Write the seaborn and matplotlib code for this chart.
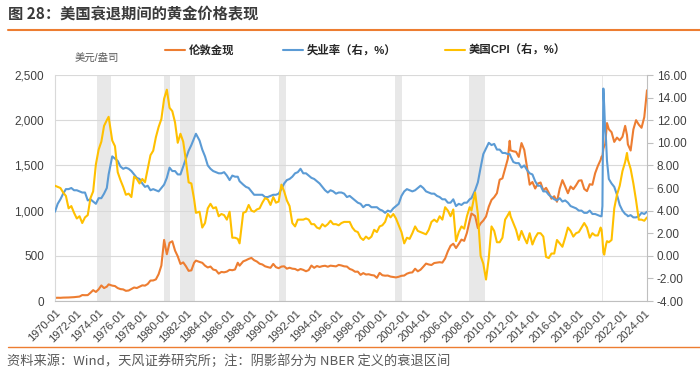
import numpy as np
import pandas as pd
import matplotlib.pyplot as plt
import seaborn as sns
from matplotlib.lines import Line2D
from matplotlib.ticker import FuncFormatter

# Sampled roughly quarterly, with extra months at peaks / troughs
dates = [
    "1970-01", "1970-04", "1970-07", "1970-10",
    "1971-01", "1971-04", "1971-07", "1971-10",
    "1972-01", "1972-04", "1972-07", "1972-10",
    "1973-01", "1973-04", "1973-07", "1973-10",
    "1974-01", "1974-04", "1974-07", "1974-10", "1974-12",
    "1975-04", "1975-07", "1975-10",
    "1976-01", "1976-04", "1976-07", "1976-10",
    "1977-01", "1977-04", "1977-07", "1977-10",
    "1978-01", "1978-04", "1978-07", "1978-10",
    "1979-01", "1979-04", "1979-07", "1979-10",
    "1980-01", "1980-04", "1980-07", "1980-10",
    "1981-01", "1981-04", "1981-07", "1981-10",
    "1982-01", "1982-04", "1982-07", "1982-10", "1982-12",
    "1983-04", "1983-07", "1983-10",
    "1984-01", "1984-04", "1984-07", "1984-10",
    "1985-01", "1985-04", "1985-07", "1985-10",
    "1986-01", "1986-04", "1986-07", "1986-10", "1986-12",
    "1987-04", "1987-07", "1987-10",
    "1988-01", "1988-04", "1988-07", "1988-10",
    "1989-01", "1989-04", "1989-07", "1989-10",
    "1990-01", "1990-04", "1990-07", "1990-10",
    "1991-01", "1991-04", "1991-07", "1991-10",
    "1992-01", "1992-04", "1992-07", "1992-10",
    "1993-01", "1993-04", "1993-07", "1993-10",
    "1994-01", "1994-04", "1994-07", "1994-10",
    "1995-01", "1995-04", "1995-07", "1995-10",
    "1996-01", "1996-04", "1996-07", "1996-10",
    "1997-01", "1997-04", "1997-07", "1997-10",
    "1998-01", "1998-04", "1998-07", "1998-10",
    "1999-01", "1999-04", "1999-07", "1999-10",
    "2000-01", "2000-04", "2000-07", "2000-10",
    "2001-01", "2001-04", "2001-07", "2001-10",
    "2002-01", "2002-04", "2002-07", "2002-10",
    "2003-01", "2003-04", "2003-07", "2003-10",
    "2004-01", "2004-04", "2004-07", "2004-10",
    "2005-01", "2005-04", "2005-07", "2005-10",
    "2006-01", "2006-04", "2006-07", "2006-10",
    "2007-01", "2007-04", "2007-07", "2007-10",
    "2008-01", "2008-03", "2008-07", "2008-10",
    "2009-01", "2009-04", "2009-07", "2009-10",
    "2010-01", "2010-04", "2010-07", "2010-10",
    "2011-01", "2011-04", "2011-07", "2011-09", "2011-10",
    "2012-01", "2012-04", "2012-07", "2012-10",
    "2013-01", "2013-04", "2013-07", "2013-10",
    "2014-01", "2014-04", "2014-07", "2014-10",
    "2015-01", "2015-04", "2015-07", "2015-10",
    "2016-01", "2016-04", "2016-07", "2016-10",
    "2017-01", "2017-04", "2017-07", "2017-10",
    "2018-01", "2018-04", "2018-07", "2018-10",
    "2019-01", "2019-04", "2019-07", "2019-10",
    "2020-01", "2020-02", "2020-03", "2020-04", "2020-05", "2020-06",
    "2020-07", "2020-08", "2020-10",
    "2021-01", "2021-04", "2021-07", "2021-10",
    "2022-01", "2022-04", "2022-06", "2022-07", "2022-10",
    "2023-01", "2023-04", "2023-07", "2023-10",
    "2024-01", "2024-04",
]

# 伦敦金现, 美元/盎司
gold = [
    34.9, 35.9, 35.3, 37.5,
    37.9, 39.0, 40.9, 42.5,
    46.0, 49.0, 65.7, 64.2,
    65.1, 90.5, 120.0, 100.1,
    129.2, 172.2, 143.0, 158.8, 183.8,
    170.0, 165.2, 142.9,
    131.6, 128.2, 112.5, 116.0,
    132.3, 149.2, 143.4, 158.6,
    173.2, 170.1, 188.3, 226.2,
    227.3, 239.2, 296.5, 392.0,
    675.3, 517.4, 643.8, 661.1,
    557.3, 494.4, 409.3, 427.1,
    384.1, 333.5, 339.0, 423.2, 447.0,
    432.0, 422.7, 391.0,
    370.9, 381.2, 347.7, 340.3,
    302.8, 321.4, 317.3, 325.3,
    344.8, 340.4, 348.7, 423.3, 391.0,
    438.4, 450.5, 465.8,
    476.6, 451.3, 436.8, 412.5,
    404.0, 384.0, 375.0, 367.6,
    410.1, 374.3, 362.5, 380.7,
    383.6, 357.7, 367.9, 357.5,
    354.4, 338.5, 353.9, 344.4,
    329.0, 342.2, 392.0, 367.1,
    386.9, 376.5, 385.5, 389.8,
    379.2, 391.0, 387.0, 383.1,
    399.4, 393.0, 383.5, 381.0,
    355.0, 344.0, 323.8, 324.9,
    289.1, 308.6, 293.0, 296.0,
    287.0, 282.6, 256.0, 311.0,
    285.0, 280.0, 281.6, 270.0,
    265.5, 260.9, 268.0, 278.8,
    281.5, 302.0, 313.0, 316.6,
    356.9, 328.2, 346.0, 378.9,
    413.8, 404.0, 398.0, 420.0,
    424.0, 429.0, 424.5, 470.0,
    549.9, 610.6, 633.7, 585.8,
    631.2, 679.4, 665.3, 754.6,
    889.6, 968.4, 939.8, 806.6,
    858.7, 890.2, 934.2, 1043.2,
    1117.9, 1148.7, 1193.0, 1342.0,
    1356.4, 1463.0, 1572.8, 1772.1, 1666.0,
    1656.1, 1650.1, 1593.9, 1747.0,
    1671.8, 1485.1, 1286.7, 1316.2,
    1244.3, 1299.0, 1311.0, 1222.5,
    1251.8, 1198.0, 1131.6, 1159.2,
    1097.9, 1242.3, 1337.4, 1266.6,
    1192.1, 1266.9, 1236.8, 1280.2,
    1331.3, 1335.3, 1239.5, 1215.4,
    1291.8, 1285.9, 1413.0, 1494.8,
    1560.7, 1597.1, 1591.9, 1683.2, 1715.9, 1732.2,
    1846.5, 1968.6, 1900.3,
    1867.0, 1760.0, 1807.8, 1776.9,
    1817.0, 1937.4, 1836.6, 1733.0, 1664.5,
    1897.9, 2000.4, 1951.0, 1916.0,
    2034.0, 2331.0,
]

# 失业率 (%)
unemployment = [
    3.9, 4.6, 5.0, 5.5,
    5.9, 5.9, 6.0, 5.8,
    5.8, 5.7, 5.6, 5.6,
    4.9, 5.0, 4.8, 4.6,
    5.1, 5.1, 5.5, 6.0, 7.2,
    8.8, 8.6, 8.4,
    7.9, 7.7, 7.8, 7.7,
    7.5, 7.2, 6.9, 6.8,
    6.4, 6.1, 6.2, 5.8,
    5.9, 5.8, 5.7, 6.0,
    6.3, 6.9, 7.8, 7.5,
    7.5, 7.2, 7.2, 7.9,
    8.6, 9.3, 9.8, 10.4, 10.8,
    10.2, 9.4, 8.8,
    8.0, 7.7, 7.5, 7.4,
    7.3, 7.3, 7.4, 7.1,
    6.7, 7.1, 7.0, 7.0, 6.6,
    6.3, 6.1, 6.0,
    5.7, 5.4, 5.4, 5.4,
    5.4, 5.2, 5.2, 5.3,
    5.4, 5.4, 5.5, 5.9,
    6.4, 6.7, 6.8, 7.0,
    7.3, 7.4, 7.7, 7.3,
    7.3, 7.1, 6.9, 6.8,
    6.6, 6.4, 6.1, 5.8,
    5.6, 5.8, 5.7, 5.5,
    5.6, 5.6, 5.5, 5.2,
    5.3, 5.1, 4.9, 4.7,
    4.6, 4.3, 4.5, 4.5,
    4.3, 4.3, 4.3, 4.1,
    4.0, 3.8, 4.0, 3.9,
    4.2, 4.4, 4.6, 5.3,
    5.7, 5.9, 5.8, 5.7,
    5.8, 6.0, 6.2, 6.0,
    5.7, 5.6, 5.5, 5.5,
    5.3, 5.2, 5.0, 5.0,
    4.7, 4.7, 5.0, 4.4,
    4.6, 4.5, 4.7, 4.7,
    5.0, 5.1, 5.8, 6.5,
    7.8, 9.0, 9.5, 10.0,
    9.8, 9.9, 9.4, 9.4,
    9.1, 9.1, 9.0, 9.0, 8.8,
    8.3, 8.2, 8.2, 7.8,
    8.0, 7.6, 7.3, 7.2,
    6.6, 6.2, 6.2, 5.7,
    5.7, 5.4, 5.2, 5.0,
    4.9, 5.1, 4.8, 4.9,
    4.7, 4.4, 4.3, 4.2,
    4.0, 4.0, 3.8, 3.8,
    4.0, 3.7, 3.7, 3.6,
    3.5, 3.5, 4.4, 14.8, 13.2, 11.0,
    10.2, 8.4, 6.8,
    6.4, 6.1, 5.4, 4.5,
    4.0, 3.7, 3.6, 3.5, 3.6,
    3.4, 3.4, 3.5, 3.8,
    3.7, 3.9,
]

# 美国CPI 同比 (%)
cpi = [
    6.2, 6.1, 6.0, 5.6,
    5.3, 4.2, 4.4, 3.8,
    3.3, 3.5, 2.9, 3.4,
    3.6, 5.1, 5.7, 8.1,
    9.4, 10.1, 11.5, 12.0, 12.3,
    10.2, 9.7, 7.4,
    6.7, 6.1, 5.4, 5.5,
    5.2, 7.0, 6.8, 6.4,
    6.8, 6.5, 7.7, 8.9,
    9.3, 10.5, 11.4, 12.1,
    13.9, 14.7, 13.1, 12.8,
    11.8, 10.0, 10.8, 10.1,
    8.4, 6.5, 6.4, 5.0, 3.8,
    3.9, 2.5, 2.9,
    4.2, 4.6, 4.2, 4.3,
    3.5, 3.7, 3.6, 3.2,
    3.9, 1.6, 1.6, 1.5, 1.1,
    3.8, 3.9, 4.5,
    4.0, 3.9, 4.1, 4.2,
    4.7, 5.1, 5.0, 4.5,
    5.2, 4.7, 4.8, 6.3,
    5.7, 4.9, 4.4, 2.9,
    2.6, 3.2, 3.2, 3.2,
    3.3, 3.2, 2.8, 2.8,
    2.5, 2.4, 2.8, 2.6,
    2.8, 3.1, 2.8, 2.8,
    2.7, 2.9, 3.0, 3.0,
    3.0, 2.5, 2.2, 2.1,
    1.6, 1.4, 1.7, 1.5,
    1.7, 2.3, 2.1, 2.6,
    2.7, 3.0, 3.7, 3.4,
    3.7, 3.3, 2.7, 2.1,
    1.1, 1.6, 1.5, 2.0,
    2.6, 2.2, 2.1, 2.0,
    1.9, 2.3, 3.0, 3.2,
    3.0, 3.5, 3.2, 4.3,
    4.0, 3.5, 4.1, 1.3,
    2.1, 2.6, 2.4, 3.5,
    4.3, 4.0, 5.6, 3.7,
    0.0, -0.7, -2.1, -0.2,
    2.6, 2.2, 1.2, 1.2,
    1.6, 3.2, 3.6, 3.9, 3.5,
    2.9, 2.3, 1.4, 2.2,
    1.6, 1.1, 2.0, 1.0,
    1.6, 2.0, 2.0, 1.7,
    -0.1, -0.2, 0.2, 0.2,
    1.4, 1.1, 0.8, 1.6,
    2.5, 2.2, 1.7, 2.0,
    2.1, 2.5, 2.9, 2.5,
    1.6, 2.0, 1.8, 1.8,
    2.5, 2.3, 1.5, 0.3, 0.1, 0.6,
    1.0, 1.3, 1.2,
    1.4, 4.2, 5.4, 6.2,
    7.5, 8.3, 9.1, 8.5, 7.7,
    6.4, 4.9, 3.2, 3.2,
    3.1, 3.4,
]

# NBER recessions
recessions = [
    ("1973-11", "1975-03"),
    ("1980-01", "1980-07"),
    ("1981-07", "1982-11"),
    ("1990-07", "1991-03"),
    ("2001-03", "2001-11"),
    ("2007-12", "2009-06"),
    ("2020-02", "2020-04"),
]

df = pd.DataFrame({
    "date": pd.to_datetime(dates),
    "gold": gold,
    "unemp": unemployment,
    "cpi": cpi,
})

sns.set_style("white")
plt.rcParams['font.family'] = ['Liberation Sans', 'Noto Sans CJK SC']
plt.rcParams['axes.unicode_minus'] = False

c_gold = '#ED7D31'
c_unemp = '#5B9BD5'
c_cpi = '#FFC000'
txt = '#404040'

fig = plt.figure(figsize=(7, 3.71), dpi=100)
ax = fig.add_axes([55 / 700, 70 / 371, 592 / 700, 226 / 371])
ax2 = ax.twinx()

for s, e in recessions:
    ax.axvspan(pd.Timestamp(s), pd.Timestamp(e), color='#e8e8e8', lw=0, zorder=0)

sns.lineplot(data=df, x='date', y='gold', ax=ax, color=c_gold, lw=1.5, legend=False)
sns.lineplot(data=df, x='date', y='unemp', ax=ax2, color=c_unemp, lw=1.5, legend=False)
sns.lineplot(data=df, x='date', y='cpi', ax=ax2, color=c_cpi, lw=1.5, legend=False)

ax.set_xlim(pd.Timestamp("1970-01-01"), pd.Timestamp("2024-04-01"))
ax.set_ylim(0, 2500)
ax2.set_ylim(-4, 16)
ax.set_yticks(np.arange(0, 2501, 500))
ax2.set_yticks(np.arange(-4, 16.1, 2))
ax.yaxis.set_major_formatter(FuncFormatter(lambda v, p: f'{v:,.0f}'))
ax2.yaxis.set_major_formatter(FuncFormatter(lambda v, p: f'{v:.2f}'))

xt = pd.date_range("1970-01-01", "2024-01-01", freq="24MS")
ax.set_xticks(xt)
ax.set_xticklabels([d.strftime('%Y-%m') for d in xt], rotation=45, ha='right',
                   rotation_mode='anchor')

ax.yaxis.grid(True, color='#d9d9d9', lw=0.8)
ax.set_axisbelow(True)
for a in (ax, ax2):
    a.set_xlabel('')
    a.set_ylabel('')
    a.spines['top'].set_visible(False)
ax.spines['right'].set_visible(False)
ax.spines['left'].set_color('#d9d9d9')
ax.spines['bottom'].set_color('#bfbfbf')
ax2.spines['left'].set_visible(False)
ax2.spines['bottom'].set_visible(False)
ax2.spines['right'].set_color('#bfbfbf')

ax.tick_params(axis='y', length=0, pad=8, labelsize=8.5, labelcolor=txt)
ax.tick_params(axis='x', length=3, color='#bfbfbf', pad=2, labelsize=8, labelcolor=txt)
ax2.tick_params(axis='y', length=4, color='#bfbfbf', pad=3, labelsize=8.5, labelcolor=txt)

handles = [Line2D([], [], color=c_gold, lw=1.5),
           Line2D([], [], color=c_unemp, lw=1.5),
           Line2D([], [], color=c_cpi, lw=1.5)]
labels = ['伦敦金现', '失业率（右，%）', '美国CPI（右，%）']
fig.legend(handles, labels, loc='center left', bbox_to_anchor=(155 / 700, 1 - 50 / 371),
           ncol=3, frameon=False, handlelength=1.75, handletextpad=0.3, columnspacing=4.3,
           prop={'weight': 'bold', 'size': 8.2, 'family': ['Liberation Sans', 'Noto Sans CJK SC']})

fig.text(8 / 700, 1 - 14 / 371, '图 28：美国衰退期间的黄金价格表现', fontsize=11,
         fontweight='bold', color='#3a3a3a', va='center', family=['Noto Sans CJK SC'])
fig.text(75 / 700, 1 - 58 / 371, '美元/盎司', fontsize=7.5, color='#595959', va='center')
fig.text(7 / 700, 1 - 361 / 371, '资料来源：Wind，天风证券研究所；注：阴影部分为 NBER 定义的衰退区间',
         fontsize=9.5, color='#595959', va='center', family=['Noto Sans CJK SC'])

fig.add_artist(Line2D([8 / 700, 1], [1 - 30 / 371] * 2, color=c_gold, lw=1.5))
fig.add_artist(Line2D([8 / 700, 1], [1 - 347 / 371] * 2, color=c_gold, lw=1.0))

fig.savefig('out.png', dpi=100)
